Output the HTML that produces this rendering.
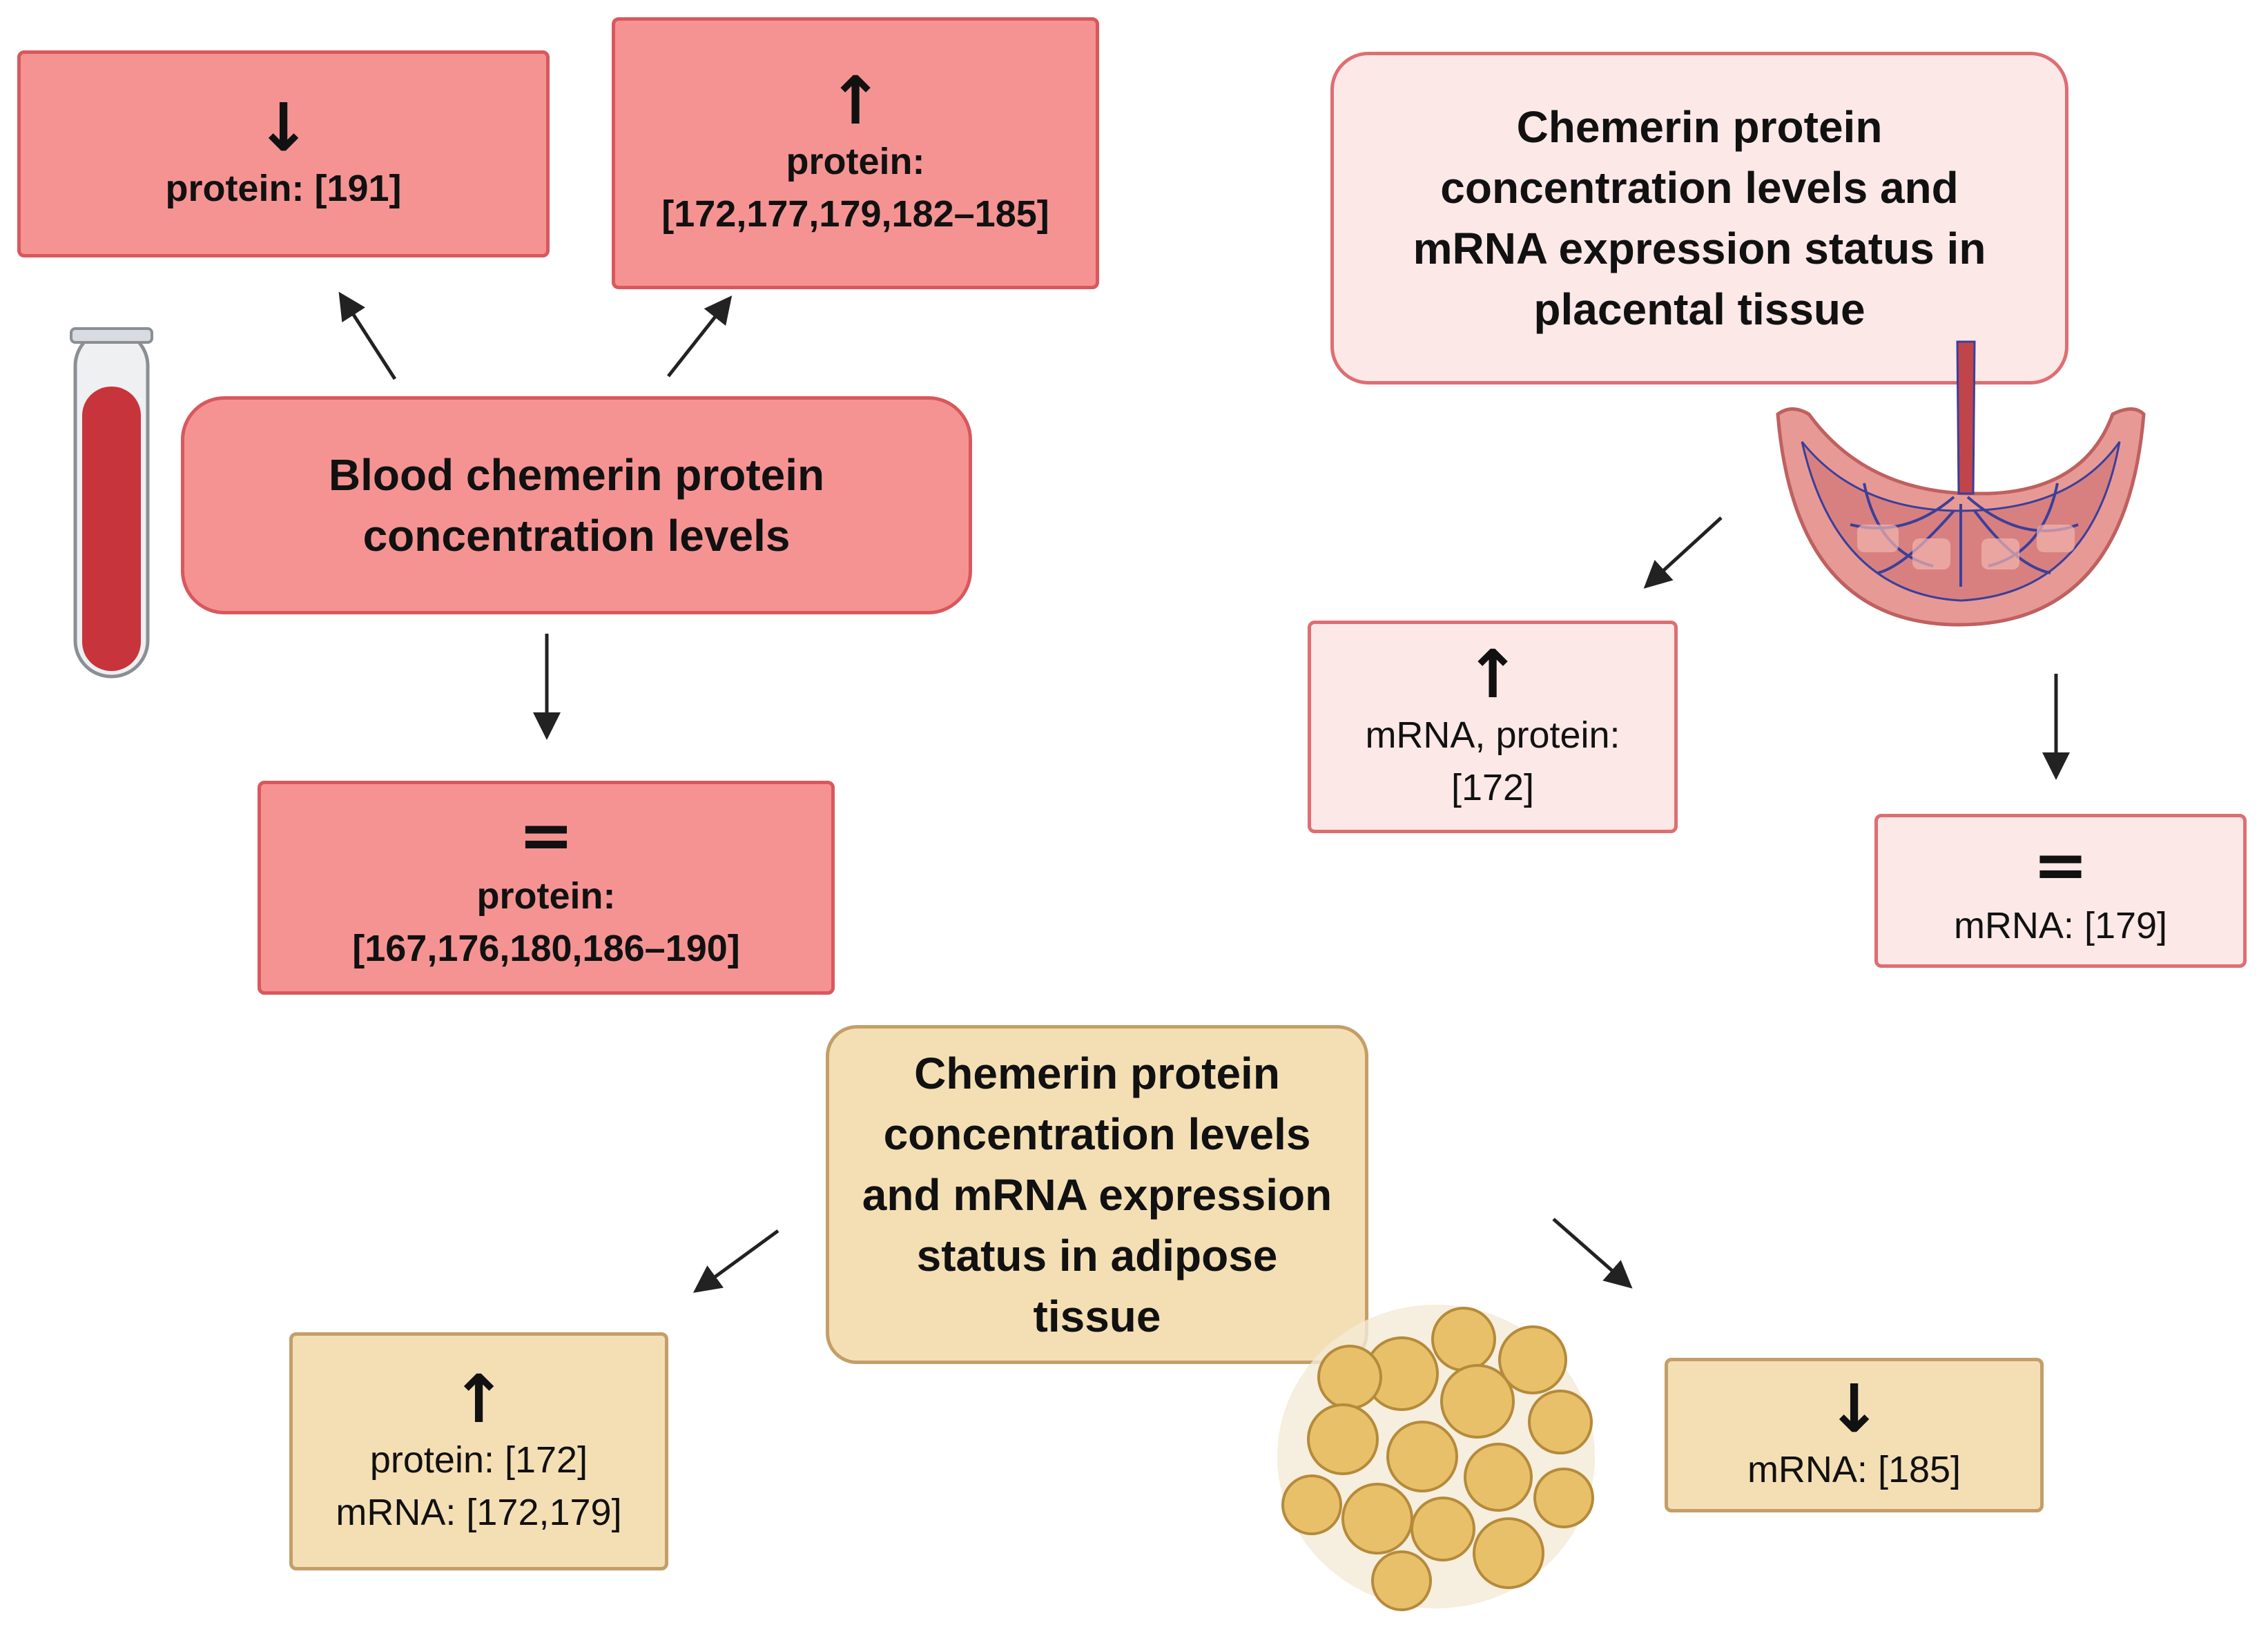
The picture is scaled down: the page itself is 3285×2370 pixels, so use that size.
<!DOCTYPE html>
<html><head><meta charset="utf-8">
<style>
html,body{margin:0;padding:0;background:#fff;}
body{width:3285px;height:2370px;position:relative;overflow:hidden;font-family:"Liberation Sans",sans-serif;color:#111;}
.b{position:absolute;box-sizing:border-box;display:flex;flex-direction:column;align-items:center;justify-content:center;text-align:center;}
.red{background:#f59393;border:5px solid #d9585c;border-radius:10px;font-weight:bold;font-size:54px;line-height:76px;}
.pink{background:#fde8e8;border:5px solid #de6e72;border-radius:10px;font-size:54px;line-height:76px;}
.tan{background:#f4dfb5;border:5px solid #c49e68;border-radius:10px;font-size:54px;line-height:76px;}
.t{font-weight:bold;font-size:64px;line-height:88px;}
.arr{font-family:"DejaVu Sans",sans-serif;font-size:96px;font-weight:bold;line-height:100px;}
</style></head><body>

<div class="b red" style="left:25px;top:73px;width:771px;height:300px;"><div class="arr">↓</div><div>protein: [191]</div></div>
<div class="b red" style="left:886px;top:25px;width:706px;height:394px;"><div class="arr">↑</div><div>protein:<br>[172,177,179,182–185]</div></div>
<div class="b red t" style="left:262px;top:574px;width:1146px;height:316px;border-radius:63px;">Blood chemerin protein<br>concentration levels</div>
<div class="b red" style="left:373px;top:1131px;width:836px;height:310px;"><div class="arr">=</div><div>protein:<br>[167,176,180,186–190]</div></div>

<div class="b pink t" style="left:1927px;top:75px;width:1069px;height:482px;border-radius:55px;">Chemerin protein<br>concentration levels and<br>mRNA expression status in<br>placental tissue</div>
<div class="b pink" style="left:1894px;top:899px;width:536px;height:308px;"><div class="arr">↑</div><div>mRNA, protein:<br>[172]</div></div>
<div class="b pink" style="left:2715px;top:1179px;width:539px;height:223px;"><div class="arr">=</div><div>mRNA: [179]</div></div>

<div class="b tan t" style="left:1196px;top:1485px;width:786px;height:491px;border-radius:45px;">Chemerin protein<br>concentration levels<br>and mRNA expression<br>status in adipose<br>tissue</div>
<div class="b tan" style="left:419px;top:1930px;width:549px;height:345px;"><div class="arr">↑</div><div>protein: [172]<br>mRNA: [172,179]</div></div>
<div class="b tan" style="left:2411px;top:1967px;width:549px;height:224px;"><div class="arr">↓</div><div>mRNA: [185]</div></div>

<svg width="3285" height="2370" style="position:absolute;left:0;top:0;" xmlns="http://www.w3.org/2000/svg">
<defs><marker id="m" markerWidth="8" markerHeight="8" refX="6" refY="4" orient="auto" markerUnits="strokeWidth"><path d="M0,0 L8,4 L0,8 z" fill="#222"/></marker></defs>
<g stroke="#222" stroke-width="5" marker-end="url(#m)">
<line x1="572" y1="549" x2="496" y2="431"/>
<line x1="968" y1="545" x2="1054" y2="436"/>
<line x1="792" y1="918" x2="792" y2="1062"/>
<line x1="2493" y1="750" x2="2388" y2="846"/>
<line x1="2978" y1="976" x2="2978" y2="1120"/>
<line x1="1127" y1="1783" x2="1012" y2="1867"/>
<line x1="2250" y1="1766" x2="2357" y2="1860"/>
</g>
<!-- test tube -->
<rect x="109" y="478" width="105" height="502" rx="52" fill="#eef0f2" stroke="#8a8f96" stroke-width="5"/>
<rect x="119" y="560" width="85" height="412" rx="42" fill="#c7343b"/>
<rect x="103" y="476" width="117" height="20" rx="6" fill="#d8dbe0" stroke="#8a8f96" stroke-width="4"/>
<!-- placenta -->
<path d="M2575,600 Q2600,905 2838,905 Q3080,905 3105,600 Q3090,585 3060,600 Q3020,710 2880,715 L2850,715 Q2700,710 2620,600 Q2595,585 2575,600 z" fill="#e79a95" stroke="#c06060" stroke-width="5"/>
<path d="M2610,640 Q2660,860 2840,870 Q3030,860 3070,640 Q3000,740 2840,740 Q2690,740 2610,640 z" fill="#d88080" stroke="#3b3f9a" stroke-width="3"/>
<g stroke="#3b3f9a" stroke-width="4" fill="none">
<path d="M2830,720 Q2760,780 2680,760 M2850,720 Q2930,790 3010,760 M2840,730 L2840,850 M2830,740 Q2760,820 2720,830 M2860,740 Q2920,820 2970,830 M2700,700 Q2720,800 2800,820 M2980,700 Q2960,800 2880,820"/>
</g>
<g fill="#f2b5b0" opacity="0.7"><rect x="2690" y="760" width="60" height="40" rx="10"/><rect x="2770" y="780" width="55" height="45" rx="10"/><rect x="2870" y="780" width="55" height="45" rx="10"/><rect x="2950" y="760" width="55" height="40" rx="10"/></g>
<path d="M2835,495 L2860,495 L2858,715 L2837,715 z" fill="#c0454a" stroke="#3b3f9a" stroke-width="3"/>
<!-- fat cluster -->
<ellipse cx="2080" cy="2110" rx="230" ry="220" fill="#f4ead6" opacity="0.8"/>
<g fill="#e8c06a" stroke="#b58a3a" stroke-width="4">
<circle cx="2120" cy="1940" r="45"/><circle cx="2030" cy="1990" r="52"/><circle cx="2220" cy="1970" r="48"/>
<circle cx="1955" cy="1995" r="45"/><circle cx="2140" cy="2030" r="52"/><circle cx="2260" cy="2060" r="45"/>
<circle cx="1945" cy="2085" r="50"/><circle cx="2060" cy="2110" r="50"/><circle cx="2170" cy="2140" r="48"/>
<circle cx="2265" cy="2170" r="42"/><circle cx="1900" cy="2180" r="42"/><circle cx="1995" cy="2200" r="50"/>
<circle cx="2090" cy="2215" r="45"/><circle cx="2185" cy="2250" r="50"/><circle cx="2030" cy="2290" r="42"/>
</g>
</svg>
</body></html>
